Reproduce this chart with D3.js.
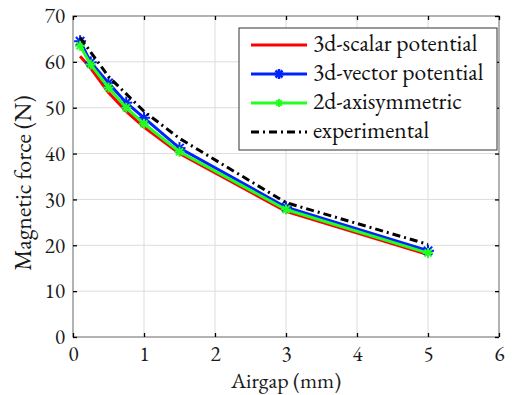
<!DOCTYPE html>
<html><head><meta charset="utf-8">
<script src="https://cdn.jsdelivr.net/npm/d3@7"></script>
<style>body{margin:0;background:#fff}svg{display:block}
svg text{font-family:"EB Garamond","Liberation Serif",serif !important;font-variant-numeric:lining-nums;}
</style>
</head><body>
<script>
const xTicks = [0,1,2,3,4,5,6];
const yTicks = [0,10,20,30,40,50,60,70];
const airgap = [0.1,0.25,0.5,0.75,1,1.5,3,5];
const scalarPot = [61.2,58.6,53.3,49.2,45.8,40.0,27.4,18.0];
const vectorPot = [64.5,59.9,55.4,51.1,47.8,41.2,28.3,18.8];
const axisym = [63.5,59.4,54.4,50.0,46.5,40.4,27.8,18.3];
const expGap = [0.1,0.5,1,1.5,3,5];
const experimental = [65.3,56.8,49.2,43.3,29.3,20.2];
const seriesNames = ["3d-scalar potential","3d-vector potential","2d-axisymmetric","experimental"];

const W=513,H=395;
const m={l:73,r:14,t:16,b:58};
const svg=d3.select("body").append("svg").attr("width",W).attr("height",H);
const x=d3.scaleLinear().domain([0,6]).range([m.l,W-m.r]);
const y=d3.scaleLinear().domain([0,70]).range([H-m.b,m.t]);

const g=svg.append("g");
g.selectAll(".gx").data(xTicks).join("line").attr("x1",d=>x(d)).attr("x2",d=>x(d)).attr("y1",y(0)).attr("y2",y(70)).attr("stroke","#dcdcdc").attr("stroke-width",1);
g.selectAll(".gy").data(yTicks).join("line").attr("y1",d=>y(d)).attr("y2",d=>y(d)).attr("x1",x(0)).attr("x2",x(6)).attr("stroke","#dcdcdc").attr("stroke-width",1);

svg.append("rect").attr("x",x(0)).attr("y",y(70)).attr("width",x(6)-x(0)).attr("height",y(0)-y(70)).attr("fill","none").attr("stroke","#8c8c8c").attr("stroke-width",1.2);

const tk=-4;
const fmt=d3.format("d");
svg.append("g").attr("transform",`translate(0,${y(0)})`).call(d3.axisBottom(x).tickValues(xTicks).tickFormat(fmt).tickSize(tk).tickPadding(9)).call(s=>s.select(".domain").remove());
svg.append("g").attr("transform",`translate(0,${y(70)})`).call(d3.axisTop(x).tickValues(xTicks).tickSize(tk).tickFormat("")).call(s=>s.select(".domain").remove());
svg.append("g").attr("transform",`translate(${x(0)},0)`).call(d3.axisLeft(y).tickValues(yTicks).tickFormat(fmt).tickSize(tk).tickPadding(8)).call(s=>s.select(".domain").remove());
svg.append("g").attr("transform",`translate(${x(6)},0)`).call(d3.axisRight(y).tickValues(yTicks).tickSize(tk).tickFormat("")).call(s=>s.select(".domain").remove());
svg.selectAll(".tick line").attr("stroke","#000").attr("stroke-width",1.3);
svg.selectAll(".tick text").attr("font-size",21).attr("fill","#1a1a1a");

svg.append("text").attr("x",(x(0)+x(6))/2).attr("y",388).attr("text-anchor","middle").attr("font-size",22).attr("fill","#1a1a1a").text("Airgap (mm)");
svg.append("text").attr("transform",`translate(31,183) rotate(-90)`).attr("text-anchor","middle").attr("font-size",24).attr("fill","#1a1a1a").text("Magnetic force (N)");

const line=d3.line().x(d=>x(d[0])).y(d=>y(d[1]));
const zip=(a,b)=>a.map((v,i)=>[v,b[i]]);

function star(sel,cx,cy,r,color,sw){
  const gg=sel.append("g").attr("stroke",color).attr("stroke-width",sw);
  gg.append("line").attr("x1",cx-r).attr("x2",cx+r).attr("y1",cy).attr("y2",cy);
  gg.append("line").attr("x1",cx).attr("x2",cx).attr("y1",cy-r).attr("y2",cy+r);
  const k=r*0.7;
  gg.append("line").attr("x1",cx-k).attr("x2",cx+k).attr("y1",cy-k).attr("y2",cy+k);
  gg.append("line").attr("x1",cx-k).attr("x2",cx+k).attr("y1",cy+k).attr("y2",cy-k);
}

const p=svg.append("g");
p.append("path").datum(zip(airgap,scalarPot)).attr("d",line).attr("fill","none").attr("stroke","#ff0000").attr("stroke-width",3);
p.append("path").datum(zip(airgap,vectorPot)).attr("d",line).attr("fill","none").attr("stroke","#0022ff").attr("stroke-width",3);
zip(airgap,vectorPot).forEach(d=>star(p,x(d[0]),y(d[1]),6,"#0022ff",2));
p.append("path").datum(zip(airgap,axisym)).attr("d",line).attr("fill","none").attr("stroke","#22ff22").attr("stroke-width",3);
zip(airgap,axisym).forEach(d=>star(p,x(d[0]),y(d[1]),5,"#22ff22",2));
p.append("path").datum(zip(expGap,experimental)).attr("d",line).attr("fill","none").attr("stroke","#000").attr("stroke-width",3).attr("stroke-dasharray","8,4,2,4");

const lg=svg.append("g");
lg.append("rect").attr("x",239).attr("y",28).attr("width",258).attr("height",122).attr("fill","#fff").attr("stroke","#333").attr("stroke-width",1);
const cols=["#ff0000","#0022ff","#22ff22","#000"];
seriesNames.forEach((n,i)=>{
  const yy=45+i*29;
  const l=lg.append("line").attr("x1",251).attr("x2",307).attr("y1",yy).attr("y2",yy).attr("stroke",cols[i]).attr("stroke-width",3);
  if(i===3) l.attr("stroke-dasharray","8,4,2,4");
  if(i===1) star(lg,279,yy,5,cols[i],2.5);
  if(i===2) star(lg,279,yy,4,cols[i],2);
  lg.append("text").attr("x",313).attr("y",yy+6).attr("font-size",23.5).attr("fill","#111").text(n);
});
</script>
</body></html>
